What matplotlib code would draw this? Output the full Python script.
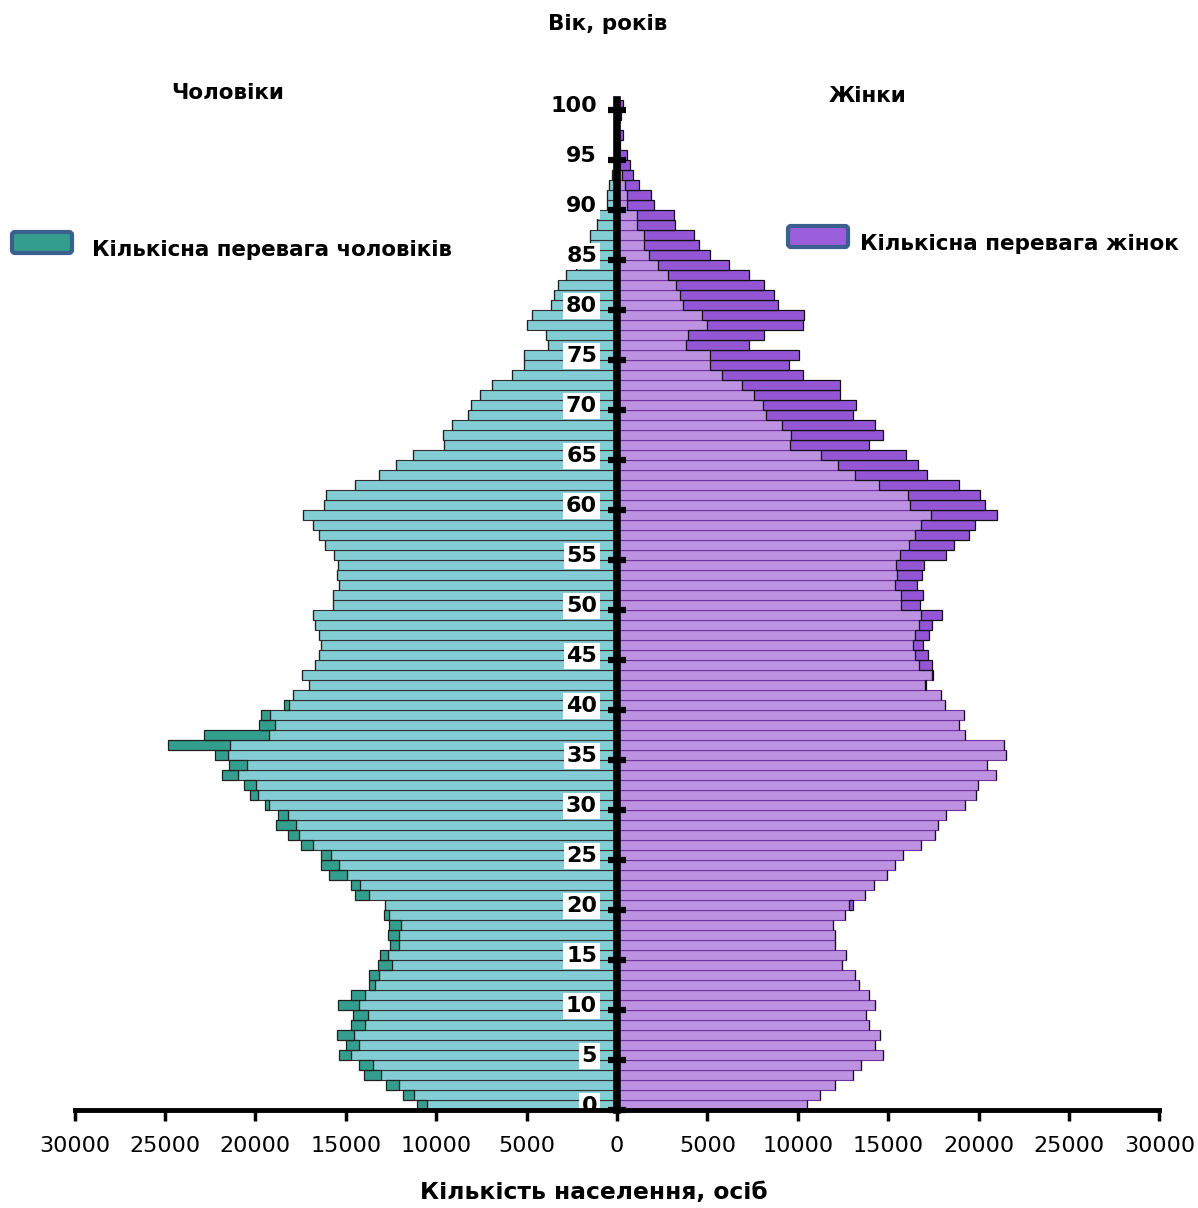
import numpy as np
import matplotlib.pyplot as plt
from matplotlib.patches import FancyBboxPatch
from matplotlib.transforms import IdentityTransform, offset_copy

# age groups 0..100
ages = np.arange(101)

# population by single year of age, persons
men = np.array([
    11060, 11820, 12760, 13990, 14250, 15380, 14970, 15470, 14730, 14580,
    15410, 14690, 13730, 13720, 13220, 13110, 12540, 12670, 12590, 12900,
    12850, 14490, 14730, 15930, 16350, 16370, 17460, 18220, 18860, 18770,
    19450, 20280, 20650, 21870, 21460, 22220, 24830, 22830, 19780, 19670,
    18400, 17900, 17020, 17440, 16700, 16460, 16350, 16500, 16700, 16840,
    15730, 15700, 15370, 15480, 15420, 15670, 16140, 16490, 16820, 17350,
    16230, 16110, 14490, 13160, 12220, 11260, 9560, 9620, 9120, 8260,
    8090, 7560, 6940, 5790, 5120, 5120, 3790, 3910, 4980, 4690,
    3670, 3460, 3280, 2840, 2290, 1790, 1510, 1480, 1120, 1120,
    530, 570, 460, 260, 150, 100, 80, 60, 40, 30,
    30])

women = np.array([
    10530, 11240, 12070, 13070, 13480, 14690, 14290, 14540, 13920, 13770,
    14280, 13920, 13380, 13180, 12430, 12640, 12070, 12040, 11930, 12630,
    13070, 13740, 14190, 14950, 15350, 15810, 16790, 17570, 17760, 18170,
    19260, 19830, 19940, 20990, 20470, 21490, 21380, 19270, 18900, 19220,
    18140, 17930, 17090, 17500, 17440, 17180, 16940, 17270, 17400, 17960,
    16780, 16940, 16580, 16890, 17000, 18200, 18660, 19490, 19780, 21040,
    20370, 20100, 18900, 17160, 16670, 16000, 13920, 14690, 14290, 13070,
    13200, 12350, 12320, 10270, 9500, 10050, 7320, 8150, 10310, 10360,
    8900, 8700, 8150, 7320, 6210, 5160, 4550, 4240, 3210, 3130,
    2030, 1860, 1230, 880, 700, 550, 150, 310, 120, 200,
    350])

xticks = np.arange(-30000, 30001, 5000)
yticks = np.arange(0, 101, 5)

base = np.minimum(men, women)
men_extra = np.clip(men - women, 0, None)
women_extra = np.clip(women - men, 0, None)

c_men = '#85CDD5'
c_men_extra = '#349E8E'
c_women = '#BD92E0'
c_women_extra = '#9556D6'

W, H = 1198, 1208
fig = plt.figure(figsize=(W / 100, H / 100), dpi=100)

def fx(x):
    return x / W

def fy(y):
    return 1 - y / H

ax = fig.add_axes([fx(74.6), fy(1110), (1159.4 - 74.6) / W, (1110 - 100) / H])

# men on the left, women on the right
ax.barh(ages, -base, height=1, align='edge', color=c_men,
        edgecolor='#2f2f2f', linewidth=0.8)
ax.barh(ages, -men_extra, left=-base, height=1, align='edge',
        color=c_men_extra, edgecolor='#1f1f1f', linewidth=0.9)
ax.barh(ages, base, height=1, align='edge', color=c_women,
        edgecolor='#7030A0', linewidth=0.8)
ax.barh(ages, women_extra, left=base, height=1, align='edge',
        color=c_women_extra, edgecolor='#111111', linewidth=0.9)

ax.set_xlim(-30000, 30000)
ax.set_ylim(0, 101)
ax.spines['top'].set_visible(False)
ax.spines['right'].set_visible(False)
ax.spines['left'].set_position(('data', 0))
ax.spines['left'].set_linewidth(5.5)
ax.spines['bottom'].set_linewidth(3.5)

ax.set_xticks(xticks)
ax.set_xticklabels([str(abs(v)) for v in xticks], fontsize=16)
ax.tick_params(axis='x', direction='out', length=8, width=2.5, pad=11)

# age labels sit a little above their tick, on a white box
ax.set_yticks(yticks)
ax.set_yticklabels([])
ax.tick_params(axis='y', direction='inout', length=13, width=4.5)
lab_tr = offset_copy(ax.transData, fig=fig, x=-20, y=4, units='dots')
for v in yticks:
    ax.text(0, v, str(v), transform=lab_tr, ha='right', va='center',
            fontsize=16, fontweight='bold', zorder=2,
            bbox=dict(facecolor='white', edgecolor='none', pad=2))

# titles
fig.text(fx(608), fy(24), 'Вік, років', ha='center', va='center',
         fontsize=15.5, fontweight='bold')
fig.text(fx(228), fy(93), 'Чоловіки', ha='center', va='center',
         fontsize=15.5, fontweight='bold')
fig.text(fx(868), fy(96), 'Жінки', ha='center', va='center',
         fontsize=15.5, fontweight='bold')
fig.text(fx(594), fy(1193), 'Кількість населення, осіб', ha='center',
         va='center', fontsize=16.8, fontweight='bold')

# legend boxes
for x0, y0, col in [(12, 232, c_men_extra), (788, 226, '#9B5EDB')]:
    box = FancyBboxPatch((x0, H - y0 - 21), 60, 21,
                         boxstyle='round,pad=0,rounding_size=3',
                         facecolor=col, edgecolor='#3B5F8E', linewidth=3,
                         transform=IdentityTransform())
    fig.add_artist(box)
fig.text(fx(92), fy(250), 'Кількісна перевага чоловіків', ha='left',
         va='center', fontsize=15.4, fontweight='bold')
fig.text(fx(860), fy(244), 'Кількісна перевага жінок', ha='left',
         va='center', fontsize=15.5, fontweight='bold')

fig.savefig('out.png', dpi=100)
